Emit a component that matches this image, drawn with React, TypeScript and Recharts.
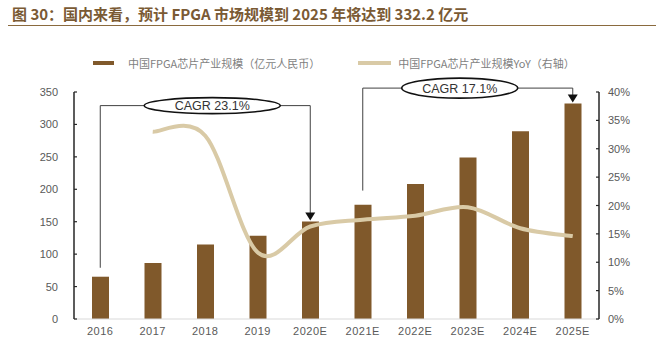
import { ComposedChart, Bar, Line, XAxis, YAxis, ReferenceLine, ReferenceDot } from 'recharts';

const years = ['2016', '2017', '2018', '2019', '2020E', '2021E', '2022E', '2023E', '2024E', '2025E'];
const marketSize = [65.2, 86.5, 115.0, 128.5, 150.3, 176.2, 208.0, 249.0, 289.5, 332.2];
const marketYoY = [null, 33.0, 32.3, 11.7, 16.3, 17.5, 18.2, 19.7, 16.0, 14.6];
const leftTicks = [0, 50, 100, 150, 200, 250, 300, 350];
const rightTicks = [0, 5, 10, 15, 20, 25, 30, 35, 40];

const data = years.map((year, i) => ({ year, size: marketSize[i], yoy: marketYoY[i] }));

const BAR = '#80592b';
const LINE = '#d9caa6';
const AXIS_TEXT = '#595959';
const NUM_FONT = '"Liberation Sans", Arial, sans-serif';
const CJK_FONT = '"Noto Sans CJK SC", sans-serif';

// excel-ish smoothed line (catmull-rom bezier)
const excelSmooth = (context: any) => {
  let pts: number[][] = [];
  return {
    areaStart() {},
    areaEnd() {},
    lineStart() {
      pts = [];
    },
    point(x: number, y: number) {
      pts.push([+x, +y]);
    },
    lineEnd() {
      if (!pts.length) return;
      context.moveTo(pts[0][0], pts[0][1]);
      for (let i = 0; i < pts.length - 1; i++) {
        const p0 = pts[i - 1] || pts[i];
        const p1 = pts[i];
        const p2 = pts[i + 1];
        const p3 = pts[i + 2] || p2;
        context.bezierCurveTo(
          p1[0] + (p2[0] - p0[0]) / 6,
          p1[1] + (p2[1] - p0[1]) / 6,
          p2[0] - (p3[0] - p1[0]) / 6,
          p2[1] - (p3[1] - p1[1]) / 6,
          p2[0],
          p2[1]
        );
      }
    },
  };
};

const LeftTick = ({ x, y, payload }: any) => (
  <g>
    <line x1={x} x2={x + 3} y1={y} y2={y} stroke="#262626" strokeWidth={1.2} />
    <text x={x - 16} y={y} dy={4} textAnchor="end" fontSize={11} fill={AXIS_TEXT} fontFamily={NUM_FONT}>
      {payload.value}
    </text>
  </g>
);

const RightTick = ({ x, y, payload }: any) => (
  <g>
    <line x1={x - 3} x2={x} y1={y} y2={y} stroke="#262626" strokeWidth={1.2} />
    <text x={x + 9} y={y} dy={4} textAnchor="start" fontSize={11} fill={AXIS_TEXT} fontFamily={NUM_FONT}>
      {`${payload.value}%`}
    </text>
  </g>
);

const BottomTick = ({ x, y, payload }: any) => (
  <text x={x} y={y} dy={10} textAnchor="middle" fontSize={11} fill={AXIS_TEXT} fontFamily={NUM_FONT} letterSpacing={0.5}>
    {payload.value}
  </text>
);

const cagrLabel = (text: string, dx: number, rx: number, ry: number) => (props: any) => (
  <g>
    <ellipse cx={props.cx + dx} cy={props.cy} rx={rx} ry={ry} fill="#fff" stroke="#111" strokeWidth={1.6} />
    <text x={props.cx + dx} y={props.cy} dy={4.5} textAnchor="middle" fontSize={12.5} fill="#333" fontFamily={NUM_FONT}>
      {text}
    </text>
  </g>
);

const arrowHead = (props: any) => (
  <path d={`M${props.cx - 5},${props.cy - 9} L${props.cx + 5},${props.cy - 9} L${props.cx},${props.cy - 1} Z`} fill="#111" />
);

export default function App() {
  return (
    <div style={{ position: 'absolute', left: 0, top: 0, width: 663, height: 360, background: '#fff', overflow: 'hidden' }}>
      <div
        style={{
          position: 'absolute',
          left: 12,
          top: 3,
          fontFamily: CJK_FONT,
          fontWeight: 700,
          fontSize: 15,
          color: '#7a5a34',
          whiteSpace: 'nowrap',
        }}
      >
        图 30：国内来看，预计 FPGA 市场规模到 2025 年将达到 332.2 亿元
      </div>
      <div style={{ position: 'absolute', left: 8, top: 25, width: 648, height: 0, borderTop: '1.5px solid #8a6a3e' }} />

      <div style={{ position: 'absolute', left: 93, top: 55, fontFamily: CJK_FONT, fontSize: 11, color: '#7f7f7f', display: 'flex', alignItems: 'center', whiteSpace: 'nowrap' }}>
        <span style={{ display: 'inline-block', width: 21, height: 4, background: BAR, marginRight: 14 }} />
        <span>中国FPGA芯片产业规模（亿元人民币）</span>
        <span style={{ display: 'inline-block', width: 33, height: 4, background: LINE, marginLeft: 38, marginRight: 7 }} />
        <span>中国FPGA芯片产业规模YoY（右轴）</span>
      </div>

      <ComposedChart width={663} height={360} data={data} margin={{ top: 92, right: 0, bottom: 11, left: 0 }}>
        <XAxis
          dataKey="year"
          height={30}
          tickSize={0}
          tickMargin={6}
          tickLine={false}
          axisLine={{ stroke: '#d9d9d9', strokeWidth: 1 }}
          tick={<BottomTick />}
          interval={0}
        />
        <YAxis
          yAxisId="left"
          width={74}
          domain={[0, 350]}
          ticks={leftTicks}
          tickSize={0}
          tickMargin={0}
          tickLine={false}
          axisLine={{ stroke: '#262626', strokeWidth: 1.5 }}
          tick={<LeftTick />}
          interval={0}
        />
        <YAxis
          yAxisId="right"
          orientation="right"
          width={64}
          domain={[0, 40]}
          ticks={rightTicks}
          tickSize={0}
          tickMargin={0}
          tickLine={false}
          axisLine={{ stroke: '#262626', strokeWidth: 1.5 }}
          tick={<RightTick />}
          interval={0}
        />
        <Bar yAxisId="left" dataKey="size" fill={BAR} barSize={17} isAnimationActive={false} />
        <Line
          yAxisId="right"
          dataKey="yoy"
          type={excelSmooth as any}
          stroke={LINE}
          strokeWidth={4}
          dot={false}
          activeDot={false}
          isAnimationActive={false}
        />

        {/* CAGR 2016-2020E */}
        <ReferenceLine yAxisId="left" segment={[{ x: '2016', y: 329 }, { x: '2020E', y: 329 }]} stroke="#404040" strokeWidth={1} />
        <ReferenceLine yAxisId="left" segment={[{ x: '2016', y: 329 }, { x: '2016', y: 79 }]} stroke="#404040" strokeWidth={1} />
        <ReferenceLine yAxisId="left" segment={[{ x: '2020E', y: 329 }, { x: '2020E', y: 163 }]} stroke="#404040" strokeWidth={1} />
        <ReferenceDot yAxisId="left" x="2020E" y={150.3} r={0} shape={arrowHead} />
        <ReferenceDot yAxisId="left" x="2018" y={329} r={0} shape={cagrLabel('CAGR 23.1%', 7, 68, 8)} />

        {/* CAGR 2021E-2025E */}
        <ReferenceLine yAxisId="left" ifOverflow="visible" segment={[{ x: '2021E', y: 356 }, { x: '2025E', y: 356 }]} stroke="#404040" strokeWidth={1} />
        <ReferenceLine yAxisId="left" ifOverflow="visible" segment={[{ x: '2021E', y: 356 }, { x: '2021E', y: 198 }]} stroke="#404040" strokeWidth={1} />
        <ReferenceLine yAxisId="left" ifOverflow="visible" segment={[{ x: '2025E', y: 356 }, { x: '2025E', y: 344 }]} stroke="#404040" strokeWidth={1} />
        <ReferenceDot yAxisId="left" ifOverflow="visible" x="2025E" y={332.2} r={0} shape={arrowHead} />
        <ReferenceDot yAxisId="left" ifOverflow="visible" x="2023E" y={356} r={0} shape={cagrLabel('CAGR 17.1%', -8, 58, 10)} />
      </ComposedChart>
    </div>
  );
}
